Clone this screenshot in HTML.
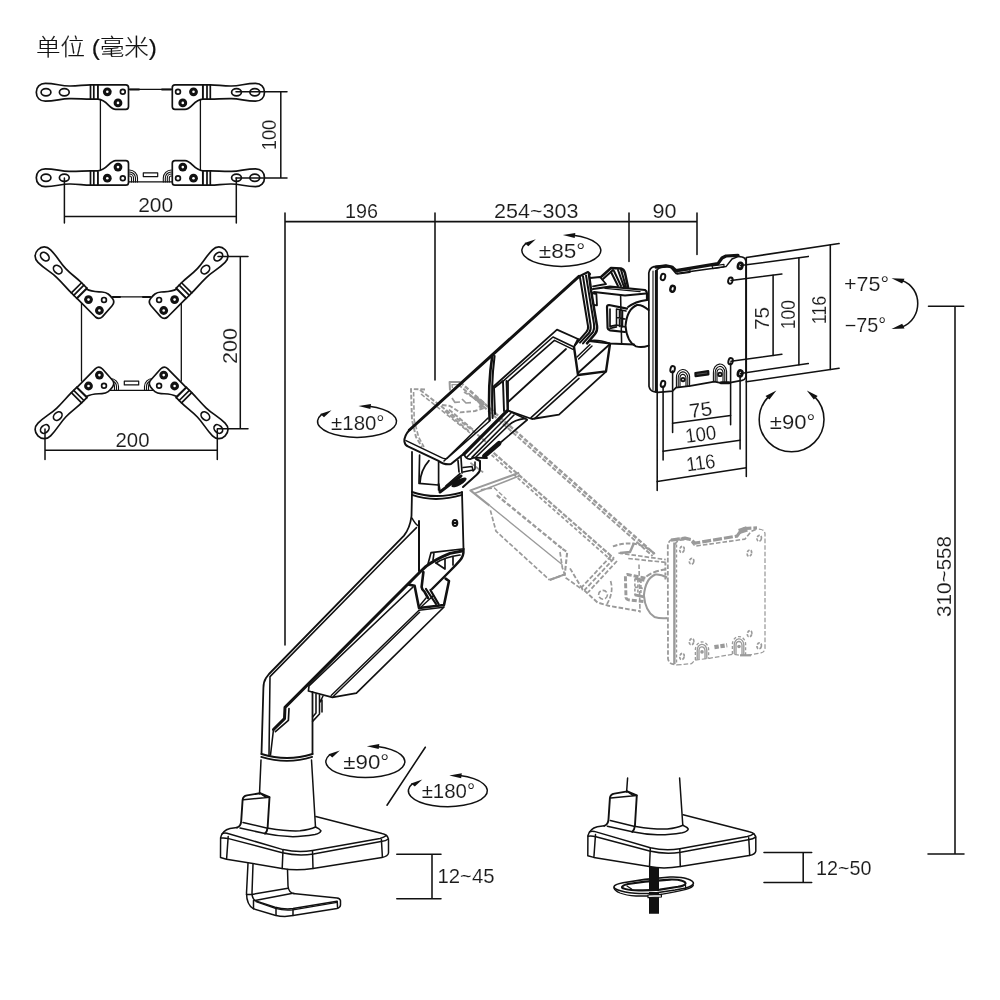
<!DOCTYPE html>
<html lang="zh"><head><meta charset="utf-8"><title>单位 (毫米)</title>
<style>
html,body{margin:0;padding:0;background:#fff;}
body{width:1000px;height:1000px;overflow:hidden;}
svg{display:block;will-change:transform;}
svg text{font-family:"Liberation Sans", "Noto Sans CJK SC", sans-serif;fill:#1a1a1a;stroke:#fff;stroke-width:0.12px;}
</style></head><body>
<svg width="1000" height="1000" viewBox="0 0 1000 1000" fill="none" stroke="#111" stroke-width="1.5" stroke-linecap="round" stroke-linejoin="round">
<rect x="0" y="0" width="1000" height="1000" fill="#fff" stroke="none"/>

<defs>
  <!-- bracket arm: origin at bolt1, arm extends to -x -->
  <g id="arm">
    <path d="M-9.3,-7 L-16.8,-7 C-24,-7 -30,-5.6 -38,-5.8 C-47,-6 -52,-8.4 -62,-8.4 C-67.5,-8.4 -71,-4.8 -71,0.5 C-71,5.8 -67.5,9.4 -62,9.4 C-52,9.4 -47,7 -38,6.8 C-30,6.6 -24,7.4 -16.8,7.4 L-9.3,7.4" fill="#fff"/>
    <path d="M-16.8,-7 V7.4 M-13.5,-7 V7.4 M-9.3,-7 V7.4" fill="none"/>
    <ellipse cx="-61.3" cy="0.5" rx="4.9" ry="3.6" fill="#fff"/>
    <ellipse cx="-43" cy="0.5" rx="4.9" ry="3.6" fill="#fff"/>
  </g>
  <g id="bolt">
    <circle r="4.4" fill="#111" stroke="none"/>
    <circle r="1.3" fill="#fff" stroke="none"/>
  </g>
  <!-- plate for fig1 (origin bolt1) -->
  <g id="plate1">
    <path d="M-9.3,-7 H18.5 Q21.2,-7 21.2,-4.3 V14.8 Q21.2,17.6 18.5,17.6 H8.5 C2,17.6 0,8.2 -9.3,7.4 Z" fill="#fff"/>
    <use href="#bolt"/>
    <use href="#bolt" x="10.7" y="11.1"/>
    <circle cx="15.5" cy="0" r="2.4" fill="#fff"/>
  </g>
  <!-- plate for fig2 (origin bolt1), arm rotated 45deg -->
  <g id="plate2">
    <path d="M-2,-10.6 C3,-7.6 8,-8 13.5,-7.6 C19,-7.2 21,-5 24,-1 C26,1.6 25.6,4 23.6,6.2 L14,17 Q10.5,20.4 7,17.4 L-11.5,-1.3 Z" fill="#fff"/>
    <use href="#bolt"/>
    <use href="#bolt" x="10.9" y="10.9"/>
    <circle cx="15.5" cy="0.3" r="2.4" fill="#fff"/>
  </g>
  <!-- rotation symbol, origin = ellipse centre -->
  <g id="rot">
    <path d="M12,-15.2 A39.5,15.9 0 1 1 -35.6,-6.9" fill="none"/>
    <path d="M1.5,-15.4 L14,-17.6 L13.4,-12.6 Z" fill="#111" stroke="none"/>
    <path d="M-25.5,-11.2 L-33,-4.2 L-36.8,-7.4 Z" fill="#111" stroke="none"/>
  </g>
</defs>

<text x="36" y="55" font-size="22.5" font-weight="300" style="fill:#111;stroke:#111;stroke-width:0.15px" textLength="121" lengthAdjust="spacingAndGlyphs">单位 (毫米)</text>
<!-- 10_fig1.svg -->
<g id="fig1" stroke-width="1.7">
  <!-- frame lines -->
  <path d="M100.4,99 V170 M200.4,99 V170" stroke-width="1.3"/>
  <path d="M128.4,89.4 H172.4 M128.4,181.9 H172.4" stroke-width="1.2"/>
  <path d="M130,89.6 H139 M162,89.6 H171" stroke-width="2"/>
  <rect x="143.3" y="172.9" width="14.4" height="3.7" stroke-width="1.2"/>
  <!-- coils -->
  <path d="M129.5,170 a8,8 0 0 1 8,8 v4 M129.5,172 a6,6 0 0 1 6,6 v4 M129.5,174 a4,4 0 0 1 4,4 v4 M129.5,176 a2,2 0 0 1 2,2 v4" stroke-width="1.1"/>
  <path d="M171.3,170 a8,8 0 0 0 -8,8 v4 M171.3,172 a6,6 0 0 0 -6,6 v4 M171.3,174 a4,4 0 0 0 -4,4 v4 M171.3,176 a2,2 0 0 0 -2,2 v4" stroke-width="1.1"/>
  <!-- four brackets -->
  <g transform="translate(107.3,91.8)"><use href="#arm"/><use href="#plate1"/></g>
  <g transform="translate(193.5,91.8) scale(-1,1)"><use href="#arm"/><use href="#plate1"/></g>
  <g transform="translate(107.3,178.2) scale(1,-1)"><use href="#arm"/><use href="#plate1"/></g>
  <g transform="translate(193.5,178.2) scale(-1,-1)"><use href="#arm"/><use href="#plate1"/></g>
  <!-- dims -->
  <g stroke-width="1.5">
    <path d="M236,91.8 H287 M236,178 H287 M280.8,91.8 V178"/>
    <path d="M64.4,178 V223 M236.3,178 V223 M64.4,216.6 H236.3"/>
  </g>
  <text x="276" y="135" font-size="20" text-anchor="middle" transform="rotate(-90 276 135)" textLength="30.5" lengthAdjust="spacingAndGlyphs">100</text>
  <text x="155.7" y="212" font-size="19.5" text-anchor="middle" textLength="35" lengthAdjust="spacingAndGlyphs">200</text>
</g>

<!-- 11_fig2.svg -->
<g id="fig2" stroke-width="1.7">
  <path d="M81.5,303 V381 M181.3,303 V381" stroke-width="1.3"/>
  <path d="M112,296.8 H151 M110,390.4 H153" stroke-width="1.2"/>
  <path d="M113,297 H120 M143,297 H150" stroke-width="2"/>
  <rect x="124.3" y="381.2" width="14.4" height="3.7" stroke-width="1.2"/>
  <path d="M110.5,378.5 a8,8 0 0 1 8,8 v4 M110.5,380.5 a6,6 0 0 1 6,6 v4 M110.5,382.5 a4,4 0 0 1 4,4 v4" stroke-width="1.1"/>
  <path d="M152.5,378.5 a8,8 0 0 0 -8,8 v4 M152.5,380.5 a6,6 0 0 0 -6,6 v4 M152.5,382.5 a4,4 0 0 0 -4,4 v4" stroke-width="1.1"/>
  <g transform="translate(88.5,299.6)"><g transform="rotate(45)"><use href="#arm"/></g><use href="#plate2"/></g>
  <g transform="translate(174.6,299.6) scale(-1,1)"><g transform="rotate(45)"><use href="#arm"/></g><use href="#plate2"/></g>
  <g transform="translate(88.5,386) scale(1,-1)"><g transform="rotate(45)"><use href="#arm"/></g><use href="#plate2"/></g>
  <g transform="translate(174.6,386) scale(-1,-1)"><g transform="rotate(45)"><use href="#arm"/></g><use href="#plate2"/></g>
  <g stroke-width="1.5">
    <path d="M218,256.6 H248 M217.6,428.7 H248 M240.3,256.6 V428.7"/>
    <path d="M45,429 V459.5 M217.3,429 V459.5 M45,450.2 H217.3"/>
  </g>
  <text x="236.5" y="346" font-size="20" text-anchor="middle" transform="rotate(-90 236.5 346)" textLength="36" lengthAdjust="spacingAndGlyphs">200</text>
  <text x="132.5" y="446.5" font-size="19.5" text-anchor="middle" textLength="34" lengthAdjust="spacingAndGlyphs">200</text>
</g>

<!-- 20_dims.svg -->
<g id="dims" stroke-width="1.55">
  <!-- top chain -->
  <path d="M285,213 V645 M435,213 V380 M629,213 V261.5 M697,213 V254.5 M285,221.6 H697"/>
  <!-- right tall -->
  <path d="M928.5,306.3 H963.7 M955,306.3 V854 M928,854 H964"/>
  <!-- 12~50 -->
  <path d="M764,852.4 H811.7 M764,882.5 H811.7 M803.2,852.4 V882.5"/>
  <!-- 12~45 -->
  <path d="M396.8,854.3 H441 M396.8,898.8 H441 M432,854.3 V898.8"/>
  <!-- slash -->
  <path d="M425.3,747.2 L387,805.2"/>
  <!-- VESA right dims -->
  <path d="M746.3,257.5 L839.1,243.6 M740.5,265.6 L808.3,256.4 M731,280.5 L781.9,274 M731,361.3 L781.9,354.3 M740.5,373.4 L808.3,363.6 M746.3,381.8 L839.1,368.2"/>
  <path d="M773.1,275.2 V355.4 M798.9,257.7 V364.8 M830.3,245 V369.4"/>
  <!-- VESA bottom dims -->
  <path d="M657.2,390 V490.4 M663.1,386 V460 M672.6,371 V432.5 M730.6,363 V424.8 M740.1,375.5 V449 M746.3,258 V476.5"/>
  <path d="M672.6,423.3 L730.6,415.6 M663.1,451.2 L740.1,440.2 M657.2,481.6 L746.3,467.7"/>
  <!-- +-75 arc -->
  <path d="M902,280.4 C923,288 923,319 902,327"/>
  <path d="M891.5,278.2 L904.5,278.8 L902.2,283.6 Z M891.5,329 L904.5,328.6 L902.2,323.8 Z" fill="#111" stroke="none"/>
  <!-- +-90 circle -->
  <path d="M768.6,396.6 A32.4,32.4 0 1 0 814.6,396.6"/>
  <path d="M776.4,390.4 L765.5,396.1 L769.4,399.5 Z M806.8,390.4 L817.7,396.1 L813.8,399.5 Z" fill="#111" stroke="none"/>
</g>
<g id="dimtext">
  <text x="361.5" y="217.6" font-size="20" text-anchor="middle" textLength="33" lengthAdjust="spacingAndGlyphs">196</text>
  <text x="536.3" y="217.6" font-size="20" text-anchor="middle" textLength="84.5" lengthAdjust="spacingAndGlyphs">254~303</text>
  <text x="664.6" y="217.6" font-size="20" text-anchor="middle" textLength="24" lengthAdjust="spacingAndGlyphs">90</text>
  <text x="951.5" y="576.4" font-size="20" text-anchor="middle" transform="rotate(-90 951.5 576.4)" textLength="81" lengthAdjust="spacingAndGlyphs">310~558</text>
  <text x="816" y="874.5" font-size="19.5" text-anchor="start" textLength="55.5" lengthAdjust="spacingAndGlyphs">12~50</text>
  <text x="437.5" y="882.5" font-size="19.5" text-anchor="start" textLength="57" lengthAdjust="spacingAndGlyphs">12~45</text>
  <text x="768.7" y="318.5" font-size="20" text-anchor="middle" transform="rotate(-90 768.7 318.5)" textLength="23" lengthAdjust="spacingAndGlyphs">75</text>
  <text x="795.5" y="314.7" font-size="20" text-anchor="middle" transform="rotate(-90 795.5 314.7)" textLength="29" lengthAdjust="spacingAndGlyphs">100</text>
  <text x="826.3" y="310" font-size="20" text-anchor="middle" transform="rotate(-90 826.3 310)" textLength="28.5" lengthAdjust="spacingAndGlyphs">116</text>
  <text x="701.6" y="416.5" font-size="20" text-anchor="middle" transform="rotate(-7.5 701.6 416.5)" textLength="23" lengthAdjust="spacingAndGlyphs">75</text>
  <text x="701.6" y="441" font-size="20" text-anchor="middle" transform="rotate(-7.5 701.6 441)" textLength="31" lengthAdjust="spacingAndGlyphs">100</text>
  <text x="701.6" y="469.5" font-size="20" text-anchor="middle" transform="rotate(-7.5 701.6 469.5)" textLength="29" lengthAdjust="spacingAndGlyphs">116</text>
  <text x="844" y="290.8" font-size="19.5" text-anchor="start" textLength="45" lengthAdjust="spacingAndGlyphs">+75°</text>
  <text x="844.8" y="331.6" font-size="19.5" text-anchor="start" textLength="41.5" lengthAdjust="spacingAndGlyphs">−75°</text>
  <text x="792.6" y="428.6" font-size="19.5" text-anchor="middle" textLength="45.5" lengthAdjust="spacingAndGlyphs">±90°</text>
</g>

<!-- 30_rot.svg -->
<g id="rots">
  <use href="#rot" x="561.3" y="250.5"/>
  <text x="562" y="258" font-size="19.5" text-anchor="middle" textLength="46.5" lengthAdjust="spacingAndGlyphs">±85°</text>
  <use href="#rot" x="357" y="421.5"/>
  <text x="357.8" y="429.5" font-size="19.5" text-anchor="middle" textLength="53.5" lengthAdjust="spacingAndGlyphs">±180°</text>
  <use href="#rot" x="365.3" y="761.7"/>
  <text x="366.3" y="769.2" font-size="19.5" text-anchor="middle" textLength="46" lengthAdjust="spacingAndGlyphs">±90°</text>
  <use href="#rot" x="447.8" y="790.8"/>
  <text x="448.4" y="798.4" font-size="19.5" text-anchor="middle" textLength="53.5" lengthAdjust="spacingAndGlyphs">±180°</text>
</g>

<!-- 35_ghostarm.svg -->
<g id="ghostarm" stroke="#9a9a9a" stroke-width="1.83" stroke-dasharray="4.6 2" stroke-linecap="butt">
  <!-- G1 top edge heavy double -->
  <path d="M460,382 L654.7,554.1" stroke-width="2.44"/>
  <path d="M458.4,384.4 L652.6,556" stroke-width="1.95"/>
  <!-- G2 wavy double -->
  <path d="M493.6,452.8 L614,558.5" stroke-width="2.2" stroke-dasharray="5 1.6"/>
  <path d="M491.6,455 L611.6,560.6" stroke-width="1.83" stroke-dasharray="3.6 2.2"/>
  <!-- left box -->
  <path d="M425,389.5 L411,389 L412,420 L416,437 L422,447" stroke-width="1.95"/>
  <path d="M413.6,392 L414.2,420 L418.6,437 L424,447" stroke-width="1.59"/>
  <path d="M420,390 L472,430 L486,442" stroke-width="1.95"/>
  <path d="M421,394 L470,433" stroke-width="1.59"/>
  <!-- second box -->
  <path d="M450,390.4 L449.6,382 L460,382" stroke-width="2" stroke-dasharray="none"/><path d="M452.4,388 L452,384.6 L458,384.6" stroke-width="1.3" stroke-dasharray="none"/>
  <!-- middle shape -->
  <path d="M442,405 L450,406 L460,412.4 L475,411 L484,408 L476,399 L464,392" stroke-width="1.95"/>
  <path d="M452,398 L455,402.4 L460,402 M462,399 L466,403 L471,402.6" stroke-width="1.71" stroke-dasharray="none"/>
  <path d="M474,397 L483,403 L480,408" stroke-width="3.66" stroke-dasharray="none"/>
  <path d="M445,411 L470,432 M449,409.6 L474,430.4" stroke-width="1.83"/>
  <path d="M470.4,462.8 L483.2,472.4" stroke-width="1.71"/>
  <!-- lower cover -->
  <path d="M489.6,505.6 L470.4,490.4 L519.2,472.8" stroke-width="2.07" stroke-dasharray="none"/>
  <path d="M474.4,493.6 L519,476" stroke-width="1.59" stroke-dasharray="none"/>
  <path d="M480.8,489.6 L494.4,488 L506.4,499.2" stroke-width="1.46"/>
  <path d="M496.8,495.2 L562.4,548.8" stroke-width="2.32"/>
  <path d="M489.6,505.6 L562.4,564.8" stroke-width="1.34" stroke-dasharray="none"/>
  <path d="M490.4,510.4 L496,531.2 L549.6,580" stroke-width="1.71"/>
  <path d="M562.4,548.8 L567.2,552 L564.8,574.4 L549.6,580" stroke-width="2.07"/>
  <path d="M560,552 L562.4,568 L566,578 L583,590" stroke-width="1.71"/>
  <path d="M549.6,580 L564.8,574.4" stroke-width="1.95" stroke-dasharray="none"/>
  <!-- arm end near head -->
  <path d="M612.9,546.4 Q628,541 641,545.4 Q650,549 654.7,554" stroke-width="2.07"/>
  <path d="M634,543 L630,552 L620,553" stroke-width="2.44" stroke-dasharray="none"/>
  <path d="M614,558.5 L584.3,590.4 M617,561 L588,592.4 M611,556 L581,588" stroke-width="1.83"/>
  <path d="M584.3,590.4 L597.5,602.5 L608.5,605.8 L640.4,611.3" stroke-width="1.95"/>
  <circle cx="603" cy="594.8" r="4.4" stroke-width="1.59"/>
  <path d="M610.6,581 Q614,592 607,604" stroke-width="1.71"/>
  <path d="M570,568.4 L583.2,590.4" stroke-width="1.83"/>
  <path d="M618.4,553 L665.7,559.6 M628.3,558.5 L665.7,562.4" stroke-width="1.71"/>
</g>

<!-- 36_ghosthead.svg -->
<g id="ghosthead" stroke="#9a9a9a" stroke-width="1.83" stroke-dasharray="4.6 2" stroke-linecap="butt" transform="translate(19 272.5)">
  <!-- vesa outline -->
  <path d="M666,265.6 L654,266.6 Q649.4,268 648.8,273 L649,386.4 Q650,391 654,391.6 L658,392.4" stroke-width="1.8"/>
  <path d="M658,392.4 L672.4,391.2 L676,387.6 L690.4,385.8 L714.4,381.6 L720.4,382.8 L728.8,382.8 L742,380.4 Q745.6,379.6 746,376 L746,261 Q745.4,257.6 742,257 L738,256.4" stroke-width="1.25"/>
  <path d="M655.4,270 V391.6" stroke-width="2.44" stroke-dasharray="none"/>
  <path d="M657.6,272 V390" stroke-width="1.22" stroke-dasharray="3 2"/>
  <path d="M656.2,272 Q657,268.6 661,267.6 L670,266.6 L676,273.6 L712,268.6 L726,266.6 L732,259 L738,256.6" stroke-width="1.59"/>
  <path d="M652,267.6 L666,265.6 L672,267 L676,270.6 L718,263.6 L722,258 L726,256 L738,255.4" stroke-width="3.17" stroke-dasharray="9 2"/>
  <path d="M720,259 L728,256.4" stroke-width="5.49" stroke-dasharray="none"/>
  <g stroke-width="1.71" stroke-dasharray="3 1.4">
    <ellipse cx="663" cy="277" rx="2.2" ry="3.2" transform="rotate(14 663 277)"/>
    <ellipse cx="672.6" cy="288.8" rx="2.2" ry="3" transform="rotate(14 672.6 288.8)"/>
    <ellipse cx="740.2" cy="265.8" rx="2.2" ry="3" transform="rotate(14 740.2 265.8)"/>
    <ellipse cx="730.4" cy="280.6" rx="2.2" ry="3.2" transform="rotate(14 730.4 280.6)"/>
    <ellipse cx="730.6" cy="361.2" rx="2.2" ry="3.2" transform="rotate(14 730.6 361.2)"/>
    <ellipse cx="740.2" cy="373.4" rx="2.2" ry="3" transform="rotate(14 740.2 373.4)"/>
    <ellipse cx="672.6" cy="369.2" rx="2.2" ry="3.2" transform="rotate(14 672.6 369.2)"/>
    <ellipse cx="663" cy="384" rx="2.2" ry="3.2" transform="rotate(14 663 384)"/>
  </g>
  <g stroke-width="1.34" stroke-dasharray="none">
    <path d="M676.4,387.4 V378 A6.4,7.6 0 0 1 689.6,376.6 V386" stroke-dasharray="3 2"/>
    <path d="M678.2,387 V378.4 A4.6,5.8 0 0 1 687.8,377.4 V386.2"/>
    <path d="M680,386.6 V378.8 A2.9,3.9 0 0 1 686,378 V386.2"/>
    <circle cx="683" cy="379.4" r="1.8" fill="#9a9a9a" stroke="none"/>
    <path d="M713.4,381.6 V372.6 A6.4,7.6 0 0 1 726.6,371.2 V382.6" stroke-dasharray="3 2"/>
    <path d="M715.2,381.4 V373 A4.6,5.8 0 0 1 724.8,372 V382.6"/>
    <path d="M717,381.4 V373.4 A2.9,3.9 0 0 1 723,372.6 V382.6"/>
    <circle cx="720" cy="374" r="1.8" fill="#9a9a9a" stroke="none"/>
  </g>
  <path d="M695.4,374.6 L708.2,372.8" stroke-width="4.15" stroke-dasharray="4.4 1.6"/>
  <path d="M721,382.8 H732" stroke-width="2.2" stroke-dasharray="none"/>
</g>
<g id="ghosthead2" stroke="#9a9a9a" stroke-width="1.83" stroke-dasharray="4.6 2" stroke-linecap="butt" transform="translate(18.4 269.5)">
  <!-- head body -->
  <path d="M620.6,295 L621.6,343" stroke-width="1.59"/>
  <path d="M627,308.6 L609,305 Q607,305 607,307 L607.6,328 Q608,330 610,330.4 L625,332" stroke-width="2.93" stroke-dasharray="5 2"/>
  <path d="M616.5,309 V326 M619.5,310 V326.4 M622.5,310.4 V327 M616.5,317.6 L625,319" stroke-width="1.59" stroke-dasharray="3 2"/>
  <path d="M616.5,309 L626,311 M616.5,325.4 L625.6,327.4" stroke-width="2.68" stroke-dasharray="none"/>
  <path d="M648.6,308 Q642,304.4 637,305 Q627,309 625.5,326 Q627,342 636,347.4 Q642,349.4 648.6,348.6" stroke-width="2.07" stroke-dasharray="none"/>
  <path d="M628,307 Q635,301.6 647,300" stroke-width="1.95" stroke-dasharray="6 2"/>
  <path d="M647,293 V310" stroke-width="1.95" stroke-dasharray="3 2"/>
</g>

<!-- 40_base.svg -->
<defs>
<g id="baseplate">
  <path d="M315.5,827 Q320,829 321,830.8 Q320,833.5 315,834.6 Q300,837 290,836.6 Q277,836 265,833.5"/>
  <path d="M315.5,827 Q310,829.6 300,830.8 Q288,831.5 268.5,828.2"/>
  <path d="M237,827.6 Q241,826 241.2,821 L242.6,800 Q243,796 247,795.4 L260,793.2 L269.5,797.2 L267.6,828 Q267,832 265,833.6" stroke-width="1.9"/>
  <path d="M243.4,799.8 L269.5,797.2 M260,793.2 L266,797.4"/>
  <path d="M243,822.4 L267.6,828.2 M240,828 L265,833.6"/>
  <path d="M237,827.6 L230,828.6 Q222.5,830.5 220.6,837.6 L220.5,857.5 L226.5,859.2 L282,868.4 Q296,871 313,868.4 L382,857.4 Q388,856.4 388.5,853 L388.5,840 Q388.3,834.6 382,833.5 L315.8,816.6"/>
  <path d="M222.3,833.6 Q224,832.6 227,833.2 L283,849.6 Q298,853 312.5,850.6 L380,838.4 Q384,837.4 386.5,835.4"/>
  <path d="M220.8,838 Q225,837.6 228.6,838.6 L282.3,852.8 Q298,856.4 313.4,854 L381,841.6 Q386,840.8 388.4,839"/>
  <path d="M228.2,836.4 L226.6,859 M283,849.8 L282.2,868.4 M312.5,850.8 L313,868.4 M381.4,839.6 L382.4,857.2"/>
</g>
</defs>
<g id="base1" stroke-width="1.5">
  <use href="#baseplate"/>
  <!-- pole below ring -->
  <path d="M261,760 L259.5,794"/>
  <path d="M311.5,760 L315.5,827"/>
  <!-- ring -->
  <path d="M261.5,754 Q287,762 312.5,754" stroke-width="2"/>
  <path d="M261.2,756.9 Q287,764.9 312.2,756.9" stroke-width="1.7"/>
  <!-- clamp -->
  <path d="M248,863.2 L246.5,893 Q246.6,905 253.5,908.8 L275,915.2 Q284,917.4 293,915.6 L337,908.4 Q340.4,907.6 340.5,905 L340.5,900.6 Q340,898.4 337,898 L293,893.6"/>
  <path d="M253,864.2 L252,893 Q252,898 255,900.6 L275,907.2 Q284,909.6 293,908.6 L337,901.2" />
  <path d="M256,901.8 L275.4,908.4 Q284,910.8 293,909.8 L337,902.4" stroke-width="1.2"/>
  <path d="M287.5,869.6 L288,886 Q288.6,892.6 294,893.6"/>
  <path d="M246.5,894.6 L252,894.4 L288,888.2"/>
  <path d="M255,900.6 L291.5,893.6"/>
  <path d="M253.5,900.6 V908.8 M276,907.6 V915.4 M293,909 V915.6 M337.2,901.4 L337.6,908.2"/>
</g>
<g id="base2" stroke-width="1.5">
  <use href="#baseplate" transform="translate(367.3,-1.8)"/>
  <path d="M627.6,778 L626.6,792 M679.6,778 L682.8,825.2"/>
  <!-- grommet bolt -->
  <rect x="649" y="867" width="10" height="46.5" fill="#111" stroke="none"/>
  <!-- grommet plate -->
  <path d="M614,886.6 Q614.6,884.4 623,882.8 L645,879.4 L670,877 Q681,876.6 687,878.8 Q694,881 693.4,883.6 Q692.6,886 686,888 L675,890 L655,893 Q644,894 635,893.2 Q624,892.4 618,890 Q613.6,888.4 614,886.6 Z" stroke-width="1.6" fill="#fff"/>
  <path d="M622,887 Q623,885 628,884 L645,881.6 L670,879.6 Q678,879.4 682,880.8 Q687,882.4 685,884.4 Q683.6,885.8 678,886.8 L660,889.6 Q646,890.8 635,890.2 Q627,889.8 624,888.6 Q621.6,888 622,887 Z" stroke-width="2.1"/>
  <path d="M614,888 Q614.6,890.6 620,893 Q626,895.4 636,896 L650,896 M661,894.4 Q676,892 686,889.4 Q692.6,887.6 693.4,885" stroke-width="1.3"/>
  <path d="M685.6,885.4 V889 M627,886 L631.6,889" stroke-width="1.2"/>
  <rect x="649" y="867" width="10" height="24" fill="#111" stroke="none"/>
  <rect x="649" y="892" width="10" height="21.5" fill="#111" stroke="none"/>
  <path d="M648,895 L661.4,894.4 V897 L648,897.6 Z" stroke-width="1.2" fill="#fff"/>
</g>

<!-- ghost -->
<g id="ghost" stroke="#9a9a9a" stroke-dasharray="4.2 2.4" stroke-linecap="butt">
</g>

<!-- 41_lowerarm.svg -->
<g id="lowerarm" stroke-width="1.8">
  <!-- outer left/top edge -->
  <path d="M261.5,754 L263.4,688 Q263.4,682 266,678 L269,674 L404,535.6 Q410,528 411.5,516 L412,492" stroke-width="1.8"/>
  <path d="M269,755 L270,676.6 L390,554.2 L416.5,527.6" stroke-width="1.56"/>
  <path d="M412,518 Q415,524 419,526.4" stroke-width="1.56"/>
  <!-- thick lower edge of arm body -->
  <path d="M273.5,729.5 L284.5,718.6 L285,707.4 L420,572 L426,566.4 Q436,559 450,553.4 L462,551" stroke-width="3"/>
  <path d="M275.4,731.6 L288.4,720.4 L289,708.6" stroke-width="1.68"/>
  <path d="M273.5,729.5 L270.5,755" stroke-width="1.56"/>
  <!-- pole right edge + small clip -->
  <path d="M312.5,692 V754"/>
  <path d="M316,694 V713 L312.6,717 M319.5,695 V714 L312.6,721.4 M322,700 V712 M323,696 L319.6,703" stroke-width="1.56"/>
  <!-- lower cover -->
  <path d="M413,587 L309,686 L308.4,691 L332.4,697.4 L356.4,693.2 L444,607" stroke-width="1.68"/>
  <path d="M331.2,695.6 L418.8,610.4 M333,696.8 L419.6,612.2" stroke-width="1.44"/>
  <!-- V clip -->
  <path d="M408,584.4 L414.6,585.8 L419,608 L444,605 L449,581 L445.6,578.6" stroke-width="2.6"/>
  <path d="M419,610.2 L443.4,607.2" stroke-width="1.56"/>
  <path d="M426,589 L436,604 M430.4,590 L438.6,604" stroke-width="2.2"/>
  <path d="M419.4,606 L426,598 M421,607 L433,596" stroke-width="1.44"/>
  <!-- S curve -->
  <path d="M423.4,572 L421.6,587 Q422,590 424.4,591.6 L428,598" stroke-width="2.6"/>
  <!-- lower right edge -->
  <path d="M463.5,549 Q464,556 460,560.4 Q456,565 450,571 L432,589" stroke-width="2.4"/>
</g>
<g id="elbow" stroke-width="1.8">
  <path d="M419,521 V571" stroke-width="2"/>
  <path d="M462,492 L463.5,549"/>
  <path d="M412,492 Q435,500 462,492.4" stroke-width="2"/>
  <path d="M412,494.9 Q435,502.9 462,494.9" stroke-width="2"/>
  <ellipse cx="455" cy="523" rx="2.3" ry="3.1" stroke-width="2"/>
  <path d="M452.8,523 H457.2" stroke-width="1.8"/>
  <!-- opening -->
  <path d="M428,564 L431,552.6 L462,549 M434,553 L433,560" stroke-width="1.68"/>
  <path d="M436,563 Q445,557 460,555" stroke-width="1.68"/>
  <path d="M436,563 L445,569 L445,559 M453,557 V565" stroke-width="1.68"/>
</g>

<!-- 43_upperarm.svg -->
<g id="upperarm" stroke-width="1.8">
  <!-- top edge thick -->
  <path d="M579,276.4 L409.4,430" stroke-width="3"/>
  <path d="M579,276.4 L588,272 L590,274" stroke-width="2.2"/>
  <!-- left cap -->
  <path d="M409.4,430 Q404,436 404.4,441.6 Q405,445.4 408.4,446.6 L438,460.6 Q445,465.4 451,464 L464,453.6" stroke-width="2"/>
  <path d="M406,440.6 L441,457.4 Q444.6,459.4 447,458.4" stroke-width="1.56"/>
  <path d="M444,461 L488,418 M447,458.4 L489.6,421" stroke-width="1.56"/>
  <!-- seam -->
  <path d="M492.4,355 Q487.6,385 489.6,420" stroke-width="2.6"/>
  <path d="M494.6,356 Q490.8,385 492.6,418" stroke-width="2"/>
  <!-- small block -->
  <path d="M495,414 L494,388 L503,381 M503,381.6 L504,411 M506.5,381 L507.5,410" stroke-width="1.92"/>
  <!-- lower cover rim -->
  <path d="M493,387 L557,329.6 L578,339" stroke-width="1.8"/>
  <path d="M502.6,381.6 L553,337 L574,347 M507,382 L554.4,340.4 L573,349.4" stroke-width="1.56"/>
  <path d="M578,339 L574,347" stroke-width="1.8"/>
  <!-- lower cover faces -->
  <path d="M508,402 L566,349" stroke-width="1.8"/>
  <path d="M508,381.6 L508,410.6 L532,419 L559,414.6 L606,371.6" stroke-width="1.8"/>
  <path d="M531,417.6 L577,376 M534.6,418.6 L579,378.4" stroke-width="1.56"/>
  <!-- end cap hexagon -->
  <path d="M574,347 L578,375 L606,371.4 L610,344" stroke-width="2.4"/>
  <path d="M578,373 L610,344" stroke-width="1.8"/>
  <path d="M577,357 L590,344.6 M578.6,359 L592,346" stroke-width="1.44"/>
  <!-- rails under arm -->
  <path d="M507,411 L464,454" stroke-width="3.2"/>
  <path d="M511,413 L467,457 M514,415 L472,457.4" stroke-width="1.56"/>
  <path d="M508,410.6 L527,419.6" stroke-width="1.68"/>
  <path d="M525.6,418.4 Q514,420 509,425 L476,457" stroke-width="1.68"/>
  <path d="M527,420 L500,443" stroke-width="1.68"/>
  <path d="M499,443.4 L484.4,456" stroke-width="4.8"/>
  <path d="M464,454 Q466,459.6 470.6,459 L474,457.6 L487,458" stroke-width="1.8"/>
  <!-- end band (right) -->
  <path d="M580,277.6 L588,326 Q588.6,330 586,332.4 L575,345" stroke-width="2"/>
  <path d="M583,276.4 L590.6,325 Q591.2,330 589,333 L580,342.6" stroke-width="2"/>
  <path d="M586,275.4 L594,324 Q594.6,329 593,332 L583,343.4" stroke-width="2"/>
  <path d="M589,274.4 L591,290 L597,326 Q597.6,331 595,334 L587,343.4" stroke-width="2.5"/>
  <path d="M592,293 L596.4,294 L597,305.4 L594,305" stroke-width="1.8"/>
</g>
<g id="joint1" stroke-width="1.8">
  <path d="M412,452 V492"/>
  <path d="M419.6,455 L419,483.4 L438,485" stroke-width="1.68"/>
  <path d="M429,460.6 Q420.6,470 420,483" stroke-width="1.68"/>
  <path d="M438.6,462 V490" stroke-width="1.68"/>
  <path d="M440,492 L461,476" stroke-width="3"/>
  <path d="M440,492 L438.6,484" stroke-width="2"/>
  <path d="M446,486 L460,473.6" stroke-width="1.68"/>
  <ellipse cx="459" cy="482.4" rx="8.6" ry="2.9" transform="rotate(-29 459 482.4)" fill="#111" stroke="none"/>
  <path d="M458,460.6 L459,472 M461,457.6 L462,473" stroke-width="1.68"/>
  <path d="M476,459 L480,461 L480,469 Q480,472 477,474.4 L463,487" stroke-width="2"/><path d="M475,462 V469 L473,471" stroke-width="1.56"/>
  <path d="M463,472 L473,470 L472,466.4 L463,467.6" stroke-width="1.56"/>
</g>

<!-- 44_head.svg -->
<g id="head" stroke-width="1.8">
  <!-- left quad -->
  <path d="M590,278 L600,277 L606,284 L593,286.4" stroke-width="1.8"/>
  <!-- handle -->
  <path d="M601,277 L611,268 L621,268.4 Q624,269 625,273 L628,287" stroke-width="2.5"/>
  <path d="M603,279 L613,270" stroke-width="2"/>
  <path d="M611,272 L618,286 M614,271 L621,286 M618,270 L624,287 M621,269.6 L626,287" stroke-width="2"/>
  <!-- top plate -->
  <path d="M593,289 L610,286.6 L645,290 Q647,291 647,293.4 L647,300" stroke-width="2.2"/>
  <path d="M594,292 L625,295.6 L646,293.4" stroke-width="2"/>
  <path d="M605,288.4 L640,291.6" stroke-width="1.44"/>
  <!-- body -->
  <path d="M620.6,295 L621.6,343" stroke-width="1.56"/>
  <!-- window -->
  <path d="M627,308.6 L609,305 Q607,305 607,307 L607.6,328 Q608,330 610,330.4 L625,332" stroke-width="2.2"/>
  <path d="M610,309 V326.4 L616.4,325.2 M610,328.4 L616.4,327" stroke-width="1.68"/>
  <path d="M616.5,309 V326 M616.5,309 L626,311 M619.5,310 V326.4 M622.5,310.4 V327 M616.5,317.6 L625,319 M616.5,325 L625.6,327" stroke-width="1.56"/>
  <!-- cylinder -->
  <path d="M648.6,310 Q642,304.4 637,305 Q627,309 625.5,326 Q627,342 636,346.4 Q642,348 648.6,345.6" stroke-width="2"/>
  <path d="M628,307 Q635,301.6 647,300" stroke-width="2"/>
  <!-- bottom -->
  <path d="M589,341 L610,343.4 L634,344.4" stroke-width="2"/>
  <path d="M589,341 Q596,338.6 610,343.4" stroke-width="1.56"/>
</g>

<!-- 45_vesa.svg -->
<g id="vesa" stroke-width="1.5">
  <!-- back/outer left edge -->
  <path d="M666,265.6 L654,266.6 Q649.4,268 648.8,273 L649,386.4 Q650,391 654,391.6 L658,392.4 L672.4,391.2 L676,387.6 L690.4,385.8 L714.4,381.6 L720.4,382.8 L728.8,382.8 L742,380.4 Q745.6,379.6 746,376 L746,261 Q745.4,257.6 742,257 L738,256.4" stroke-width="1.7"/>
  <path d="M653,271 V389.6" stroke-width="1.1"/>
  <path d="M656.4,271 V391.6" stroke-width="3"/>
  <!-- front top outline -->
  <path d="M656.2,272 Q657,268.6 661,267.6 L670,266.6 L676,273.6 L712,268.6 L726,266.6 L732,259 L738,256.6" stroke-width="1.5"/>
  <!-- thick top band -->
  <path d="M656,267.2 L666,265.8 L672,267 L676,270.6 L718,263.6 L722,258 L726,256 L738,255.4" stroke-width="3.2"/>
  <path d="M677,271.4 L690,269.6 V272.4 L677,274.2 Z M712,266 L724,264.4 V267 L713,268.8 Z" stroke-width="1.1"/>
  <path d="M721,382.8 H729" stroke-width="3"/>
  <!-- holes -->
  <g stroke-width="1.9">
    <ellipse cx="663" cy="277" rx="2.2" ry="3.2" transform="rotate(14 663 277)"/>
    <ellipse cx="672.6" cy="288.8" rx="2.2" ry="3" transform="rotate(14 672.6 288.8)" stroke-width="2.4"/>
    <ellipse cx="740.2" cy="265.8" rx="2.2" ry="3" transform="rotate(14 740.2 265.8)" stroke-width="2.7"/>
    <ellipse cx="730.4" cy="280.6" rx="2.2" ry="3.2" transform="rotate(14 730.4 280.6)"/>
    <ellipse cx="730.6" cy="361.2" rx="2.2" ry="3.2" transform="rotate(14 730.6 361.2)"/>
    <ellipse cx="740.2" cy="373.4" rx="2.2" ry="3" transform="rotate(14 740.2 373.4)" stroke-width="2.7"/>
    <ellipse cx="672.6" cy="369.2" rx="2.2" ry="3.2" transform="rotate(14 672.6 369.2)"/>
    <ellipse cx="663" cy="384" rx="2.2" ry="3.2" transform="rotate(14 663 384)"/>
  </g>
  <!-- tabs -->
  <g stroke-width="1.1">
    <path d="M676.4,387.4 V378 A6.4,7.6 0 0 1 689.6,376.6 V386"/>
    <path d="M678.2,387 V378.4 A4.6,5.8 0 0 1 687.8,377.4 V386.2"/>
    <path d="M680,386.6 V378.8 A2.9,3.9 0 0 1 686,378 V386.2"/>
    <circle cx="683" cy="379.6" r="2.7" fill="#111" stroke="none"/><circle cx="683" cy="379.6" r="0.8" fill="#fff" stroke="none"/>
    <path d="M713.4,381.6 V372.6 A6.4,7.6 0 0 1 726.6,371.2 V382.6"/>
    <path d="M715.2,381.4 V373 A4.6,5.8 0 0 1 724.8,372 V382.6"/>
    <path d="M717,381.4 V373.4 A2.9,3.9 0 0 1 723,372.6 V382.6"/>
    <circle cx="720" cy="374.4" r="2.7" fill="#111" stroke="none"/><circle cx="720" cy="374.4" r="0.8" fill="#fff" stroke="none"/>
  </g>
  <path d="M695.4,373 L708.2,371.2 L708.4,374.4 L695.6,376.2 Z" stroke-width="2.2" fill="#555"/>
</g>

</svg>
</body></html>
